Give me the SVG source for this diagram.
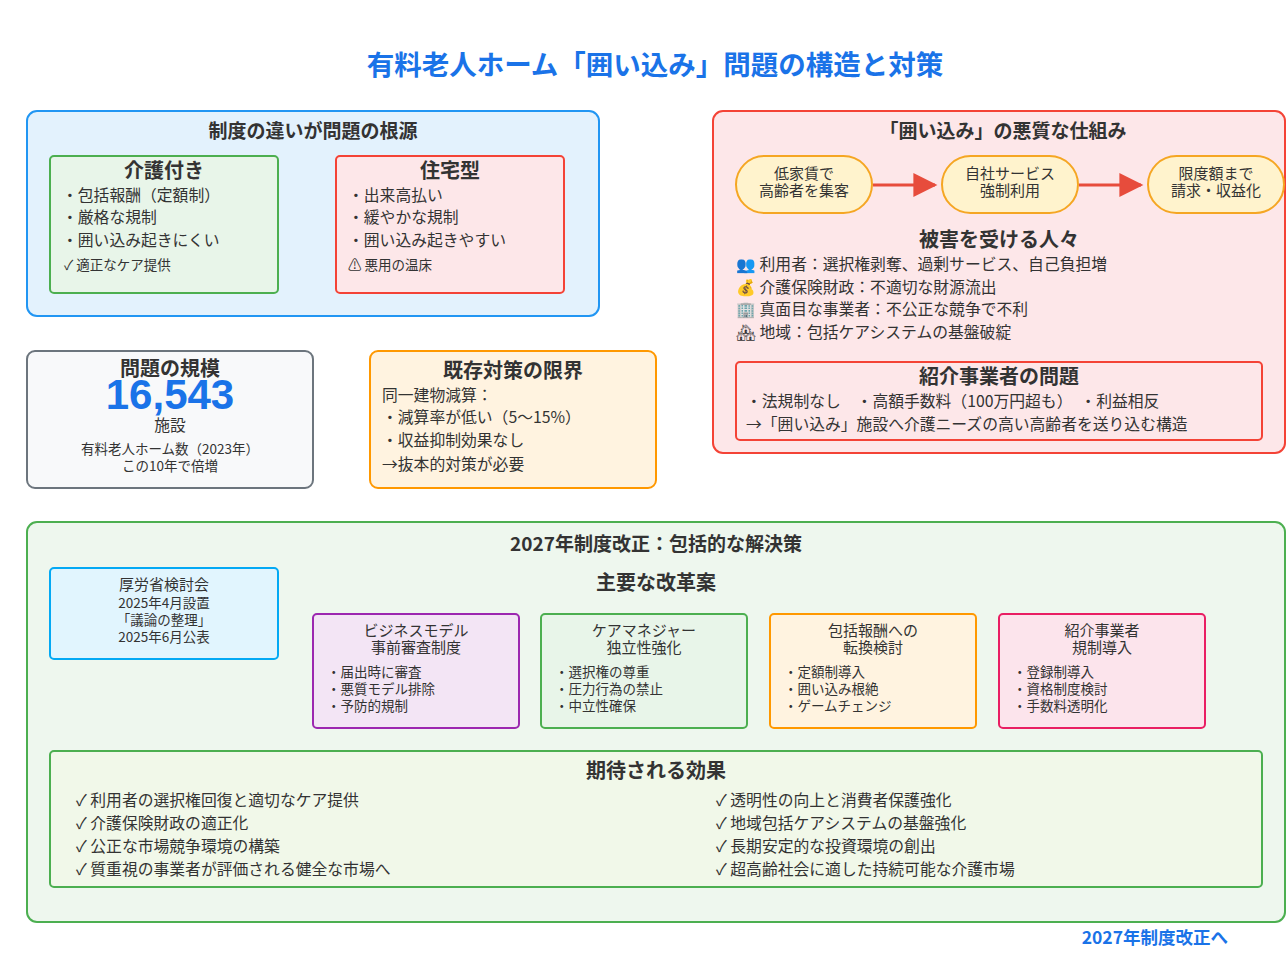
<svg xmlns="http://www.w3.org/2000/svg" width="1286" height="970" viewBox="0 0 1286 970">
<style>
text{font-family:"Noto Sans CJK JP","Noto Sans",sans-serif;fill:#333}
.h{font-weight:bold;font-size:20px;text-anchor:middle}
.h2{font-weight:bold;font-size:19px;text-anchor:middle}
.t{font-size:15.8px}
.p{font-size:15px;text-anchor:middle}
.s{font-size:13.5px}
.c{text-anchor:middle}
.box{stroke-width:2}
</style>
<defs><marker id="ar" viewBox="0 0 10 10" refX="9" refY="5" markerWidth="30" markerHeight="24" markerUnits="userSpaceOnUse" orient="auto"><path d="M0,0L10,5L0,10z" fill="#e74c3c"/></marker></defs>
<rect width="1286" height="970" fill="#fff"/>
<text x="655" y="75" class="c" style="font-size:27.5px;font-weight:bold;fill:#1a73e8">有料老人ホーム「囲い込み」問題の構造と対策</text>

<g id="root-cause">
<rect x="27" y="111" width="572" height="205" rx="10" fill="#e3f2fd" stroke="#2196f3" class="box"/>
<text x="313" y="138" class="h2">制度の違いが問題の根源</text>
</g>
<g id="kaigo">
<rect x="50" y="156" width="228" height="137" rx="4" fill="#e8f5e9" stroke="#4caf50" class="box"/>
<text x="164" y="178" class="h">介護付き</text>
<text x="62" y="201" class="t">・包括報酬（定額制）</text>
<text x="62" y="223" class="t">・厳格な規制</text>
<text x="62" y="246" class="t">・囲い込み起きにくい</text>
<text x="64" y="270" class="s">✓ 適正なケア提供</text>
</g>
<g id="jutaku">
<rect x="336" y="156" width="228" height="137" rx="4" fill="#fde7e9" stroke="#f44336" class="box"/>
<text x="450" y="178" class="h">住宅型</text>
<text x="348" y="201" class="t">・出来高払い</text>
<text x="348" y="223" class="t">・緩やかな規制</text>
<text x="348" y="246" class="t">・囲い込み起きやすい</text>
<text x="348" y="270" class="s">⚠ 悪用の温床</text>
</g>

<g id="mechanism">
<rect x="713" y="111" width="572" height="342" rx="10" fill="#fde7e9" stroke="#f44336" class="box"/>
<text x="1003" y="138" class="h2">「囲い込み」の悪質な仕組み</text>
</g>
<g id="pill1"><rect x="736" y="156" width="136" height="57" rx="28.5" fill="#fff3cd" stroke="#f5a623" class="box"/>
<text x="804" y="179" class="p">低家賃で</text><text x="804" y="196" class="p">高齢者を集客</text></g>
<g id="pill2"><rect x="942" y="156" width="136" height="57" rx="28.5" fill="#fff3cd" stroke="#f5a623" class="box"/>
<text x="1010" y="179" class="p">自社サービス</text><text x="1010" y="196" class="p">強制利用</text></g>
<g id="pill3"><rect x="1148" y="156" width="136" height="57" rx="28.5" fill="#fff3cd" stroke="#f5a623" class="box"/>
<text x="1216" y="179" class="p">限度額まで</text><text x="1216" y="196" class="p">請求・収益化</text></g>
<g id="connectors" stroke="#e74c3c" stroke-width="3" fill="none">
<line x1="873" y1="185" x2="935" y2="185" marker-end="url(#ar)"/>
<line x1="1079" y1="185" x2="1141" y2="185" marker-end="url(#ar)"/>
</g>
<g id="victims">
<text x="999" y="247" class="h">被害を受ける人々</text>
<text x="736" y="270" class="t">👥 利用者：選択権剥奪、過剰サービス、自己負担増</text>
<text x="736" y="293" class="t">💰 介護保険財政：不適切な財源流出</text>
<text x="736" y="315" class="t">🏢 真面目な事業者：不公正な競争で不利</text>
<text x="736" y="338" class="t">🏘 地域：包括ケアシステムの基盤破綻</text>
</g>
<g id="broker">
<rect x="736" y="362" width="526" height="78" rx="4" fill="#fde7e9" stroke="#f44336" class="box"/>
<text x="999" y="384" class="h">紹介事業者の問題</text>
<text x="746" y="407" class="t">・法規制なし　・高額手数料（100万円超も）　・利益相反</text>
<text x="746" y="430" class="t">→「囲い込み」施設へ介護ニーズの高い高齢者を送り込む構造</text>
</g>

<g id="scale">
<rect x="27" y="351" width="286" height="137" rx="8" fill="#f8f9fa" stroke="#6c757d" class="box"/>
<text x="170" y="376" class="h">問題の規模</text>
<text x="170" y="409" class="c" style="font-family:'Liberation Sans',Roboto,sans-serif;font-size:42px;font-weight:bold;fill:#1a73e8">16,543</text>
<text x="170" y="431" class="t c">施設</text>
<text x="170" y="454" class="s c">有料老人ホーム数（2023年）</text>
<text x="170" y="471" class="s c">この10年で倍増</text>
</g>
<g id="limits">
<rect x="370" y="351" width="286" height="137" rx="8" fill="#fff3e0" stroke="#ff9800" class="box"/>
<text x="513" y="378" class="h">既存対策の限界</text>
<text x="382" y="401" class="t">同一建物減算：</text>
<text x="382" y="423" class="t">・減算率が低い（5〜15%）</text>
<text x="382" y="446" class="t">・収益抑制効果なし</text>
<text x="382" y="470" class="t">→抜本的対策が必要</text>
</g>

<g id="reform">
<rect x="27" y="522" width="1258" height="400" rx="10" fill="#eef7ee" stroke="#4caf50" class="box"/>
<text x="656" y="551" class="h2">2027年制度改正：包括的な解決策</text>
<text x="656" y="590" class="h">主要な改革案</text>
</g>
<g id="mhlw">
<rect x="50" y="568" width="228" height="91" rx="4" fill="#e1f5fe" stroke="#03a9f4" class="box"/>
<text x="164" y="590" class="p">厚労省検討会</text>
<text x="164" y="608" class="s c">2025年4月設置</text>
<text x="164" y="625" class="s c">「議論の整理」</text>
<text x="164" y="642" class="s c">2025年6月公表</text>
</g>
<g id="r1">
<rect x="313" y="614" width="206" height="114" rx="4" fill="#f3e5f5" stroke="#9c27b0" class="box"/>
<text x="416" y="636" class="p">ビジネスモデル</text><text x="416" y="653" class="p">事前審査制度</text>
<text x="327" y="677" class="s">・届出時に審査</text><text x="327" y="694" class="s">・悪質モデル排除</text><text x="327" y="711" class="s">・予防的規制</text>
</g>
<g id="r2">
<rect x="541" y="614" width="206" height="114" rx="4" fill="#e8f5e9" stroke="#4caf50" class="box"/>
<text x="644" y="636" class="p">ケアマネジャー</text><text x="644" y="653" class="p">独立性強化</text>
<text x="555" y="677" class="s">・選択権の尊重</text><text x="555" y="694" class="s">・圧力行為の禁止</text><text x="555" y="711" class="s">・中立性確保</text>
</g>
<g id="r3">
<rect x="770" y="614" width="206" height="114" rx="4" fill="#fff3e0" stroke="#ff9800" class="box"/>
<text x="873" y="636" class="p">包括報酬への</text><text x="873" y="653" class="p">転換検討</text>
<text x="784" y="677" class="s">・定額制導入</text><text x="784" y="694" class="s">・囲い込み根絶</text><text x="784" y="711" class="s">・ゲームチェンジ</text>
</g>
<g id="r4">
<rect x="999" y="614" width="206" height="114" rx="4" fill="#fce4ec" stroke="#e91e63" class="box"/>
<text x="1102" y="636" class="p">紹介事業者</text><text x="1102" y="653" class="p">規制導入</text>
<text x="1013" y="677" class="s">・登録制導入</text><text x="1013" y="694" class="s">・資格制度検討</text><text x="1013" y="711" class="s">・手数料透明化</text>
</g>
<g id="effects">
<rect x="50" y="751" width="1212" height="136" rx="4" fill="#f1f8e9" stroke="#4caf50" class="box"/>
<text x="656" y="778" class="h">期待される効果</text>
<text x="76" y="806" class="t">✓ 利用者の選択権回復と適切なケア提供</text>
<text x="76" y="829" class="t">✓ 介護保険財政の適正化</text>
<text x="76" y="852" class="t">✓ 公正な市場競争環境の構築</text>
<text x="76" y="875" class="t">✓ 質重視の事業者が評価される健全な市場へ</text>
<text x="716" y="806" class="t">✓ 透明性の向上と消費者保護強化</text>
<text x="716" y="829" class="t">✓ 地域包括ケアシステムの基盤強化</text>
<text x="716" y="852" class="t">✓ 長期安定的な投資環境の創出</text>
<text x="716" y="875" class="t">✓ 超高齢社会に適した持続可能な介護市場</text>
</g>
<text x="1228" y="944" style="font-size:17.5px;font-weight:bold;fill:#1a73e8;text-anchor:end">2027年制度改正へ</text>
</svg>
